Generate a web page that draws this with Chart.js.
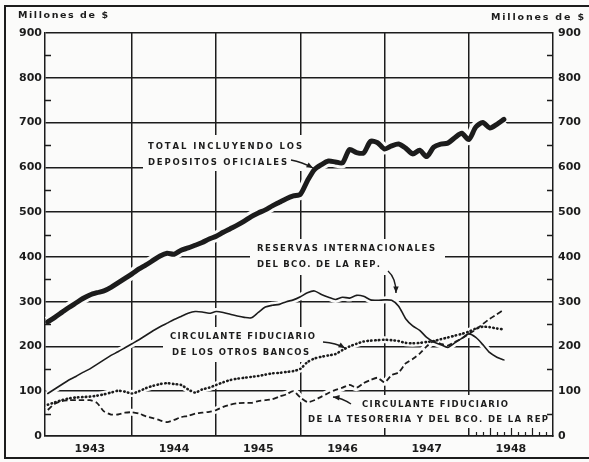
<!DOCTYPE html>
<html>
<head>
<meta charset="utf-8">
<script src="https://cdn.jsdelivr.net/npm/chart.js@4.4.0/dist/chart.umd.min.js"></script>
<style>
  html, body { margin: 0; padding: 0; background: #fbfbfa; }
  #chart { display: block; }
</style>
</head>
<body>
<canvas id="chart" width="589" height="462"></canvas>
<script>
/* ============================================
   Depósitos y circulante, 1943-1948
   valores mensuales, mes 0 = enero 1943
   ============================================ */

const years = ['1943', '1944', '1945', '1946', '1947', '1948'];
const yTicks = [0, 100, 200, 300, 400, 500, 600, 700, 800, 900];

const total = [255, 265, 276, 287, 297, 307, 315, 320, 324, 332,
    342, 352, 362, 373, 382, 392, 402, 408, 406, 415,
    420, 426, 432, 440, 446, 455, 463, 471, 480, 490,
    498, 505, 514, 522, 530, 536, 540, 570, 595, 606,
    614, 612, 610, 640, 633, 632, 658, 655, 641, 648,
    652, 643, 630, 638, 624, 645, 652, 654, 666, 676,
    662, 690, 700, 688, 696, 707];

const reservas = [95, 105, 115, 125, 133, 142, 150, 160, 170, 180,
    188, 197, 206, 215, 225, 235, 244, 252, 260, 267,
    274, 278, 277, 274, 278, 276, 272, 268, 265, 264,
    276, 288, 292, 294, 300, 304, 311, 320, 324, 316,
    310, 305, 310, 308, 314, 312, 304, 303, 304, 303,
    290, 262, 246, 236, 220, 210, 204, 198, 208, 218,
    228, 220, 204, 186, 176, 170];

const otrosBancos = [70, 75, 80, 84, 86, 87, 88, 90, 93, 97,
    101, 99, 95, 100, 107, 112, 116, 118, 116, 114,
    104, 97, 104, 108, 114, 120, 125, 128, 130, 132,
    134, 137, 140, 141, 143, 145, 150, 165, 173, 177,
    180, 183, 192, 200, 206, 211, 213, 214, 215, 214,
    212, 208, 207, 208, 210, 212, 216, 220, 224, 228,
    233, 240, 244, 243, 240, 238];

const tesoreria = [58, 72, 78, 80, 80, 80, 80, 74, 55, 48,
    48, 52, 53, 50, 44, 40, 35, 31, 36, 42,
    45, 50, 52, 54, 58, 65, 70, 73, 74, 74,
    78, 80, 82, 88, 93, 100, 86, 76, 80, 88,
    96, 103, 108, 114, 108, 118, 125, 130, 120, 136,
    142, 162, 172, 184, 200, 212, 206, 202, 210, 218,
    228, 238, 250, 262, 272, 282];

const months = total.map((_, i) => i);

/* ---------- look ---------- */
const ink = '#1c1c1c';
const paper = '#fbfbfa';

const toPoints = vals => vals.map((y, i) => ({ x: months[i], y }));

function seriesSet(label, vals, style) {
    return {
        label,
        data: toPoints(vals),
        borderColor: ink,
        pointRadius: 0,
        fill: false,
        tension: 0.25,
        borderJoinStyle: 'round',
        borderCapStyle: 'round',
        order: 1,
        ...style,
    };
}

/* wide paper-coloured line under each series: breaks the grid like the drawing */
function haloSet(vals, width) {
    return {
        label: '',
        data: toPoints(vals),
        borderColor: paper,
        borderWidth: width,
        pointRadius: 0,
        fill: false,
        tension: 0.25,
        order: 9,
    };
}

/* text notes on the plot */
const notes = [
    { box: [143, 135, 176, 36], rows: [
        { text: 'TOTAL INCLUYENDO LOS', x: 148, y: 147, w: 154 },
        { text: 'DEPOSITOS OFICIALES', x: 148, y: 163, w: 139 } ] },
    { box: [250, 239, 195, 36], rows: [
        { text: 'RESERVAS INTERNACIONALES', x: 257, y: 249, w: 178 },
        { text: 'DEL BCO. DE LA REP.', x: 257, y: 265, w: 123 } ] },
    { box: [163, 327, 186, 35], rows: [
        { text: 'CIRCULANTE FIDUCIARIO', x: 170, y: 337, w: 145 },
        { text: 'DE LOS OTROS BANCOS', x: 172, y: 353, w: 137 } ] },
    { box: [303, 395, 247, 33], rows: [
        { text: 'CIRCULANTE FIDUCIARIO', x: 362, y: 405, w: 146 },
        { text: 'DE LA TESORERIA Y DEL BCO. DE LA REP', x: 308, y: 420, w: 240 } ] },
];

const arrows = [
    { from: [291, 160], ctrl: [302, 162], to: [313, 168] },
    { from: [388, 271], ctrl: [396, 278], to: [396, 293] },
    { from: [323, 342], ctrl: [336, 343], to: [345, 348] },
    { from: [351, 404], ctrl: [342, 398], to: [333, 397] },
];

/* draw text stretched to a given width, letter by letter */
function spacedText(ctx, text, x, y, width) {
    const chars = text.split('');
    const widths = chars.map(c => ctx.measureText(c).width);
    const natural = widths.reduce((a, b) => a + b, 0);
    const gap = chars.length > 1 ? (width - natural) / (chars.length - 1) : 0;
    let cx = x;
    chars.forEach((c, i) => {
        ctx.fillText(c, cx, y);
        cx += widths[i] + gap;
    });
}

function arrowHead(ctx, tip, from, size) {
    const ang = Math.atan2(tip[1] - from[1], tip[0] - from[0]);
    ctx.beginPath();
    ctx.moveTo(tip[0], tip[1]);
    ctx.lineTo(tip[0] - size * Math.cos(ang - 0.4), tip[1] - size * Math.sin(ang - 0.4));
    ctx.lineTo(tip[0] - size * Math.cos(ang + 0.4), tip[1] - size * Math.sin(ang + 0.4));
    ctx.closePath();
    ctx.fill();
}

const paperPlugin = {
    id: 'paper',
    beforeDraw(chart) {
        const ctx = chart.ctx;
        ctx.save();
        ctx.fillStyle = paper;
        ctx.fillRect(0, 0, chart.width, chart.height);
        ctx.restore();
    },
    beforeDatasetsDraw(chart) {
        const ctx = chart.ctx;
        ctx.save();
        ctx.fillStyle = paper;
        notes.forEach(n => ctx.fillRect(n.box[0], n.box[1], n.box[2], n.box[3]));
        ctx.restore();
    },
};

const decorPlugin = {
    id: 'decor',
    afterDraw(chart) {
        const ctx = chart.ctx;
        const area = chart.chartArea;
        const y = chart.scales.y;
        const x = chart.scales.x;
        ctx.save();
        ctx.strokeStyle = ink;
        ctx.fillStyle = ink;
        ctx.lineWidth = 1.5;

        /* inward half-step ticks on both vertical axes */
        for (let v = 50; v < 900; v += 100) {
            const py = Math.round(y.getPixelForValue(v)) + 0.5;
            ctx.beginPath();
            ctx.moveTo(area.left, py); ctx.lineTo(area.left + 6, py);
            ctx.moveTo(area.right, py); ctx.lineTo(area.right - 6, py);
            ctx.stroke();
        }

        /* month ticks along the bottom in 1948 */
        ctx.lineWidth = 1.2;
        for (let m = 61; m < 72; m++) {
            const px = Math.round(x.getPixelForValue(m)) + 0.5;
            const h = (m % 3 === 0) ? 8 : 4;
            ctx.beginPath();
            ctx.moveTo(px, area.bottom);
            ctx.lineTo(px, area.bottom - h);
            ctx.stroke();
        }

        /* notes */
        ctx.font = 'bold 8.5px "DejaVu Sans", sans-serif';
        ctx.textBaseline = 'middle';
        ctx.textAlign = 'left';
        notes.forEach(n => n.rows.forEach(r => spacedText(ctx, r.text, r.x, r.y, r.w)));

        /* arrows */
        ctx.lineWidth = 1.4;
        arrows.forEach(a => {
            ctx.beginPath();
            ctx.moveTo(a.from[0], a.from[1]);
            ctx.quadraticCurveTo(a.ctrl[0], a.ctrl[1], a.to[0], a.to[1]);
            ctx.stroke();
            arrowHead(ctx, a.to, a.ctrl, 7);
        });

        /* unit captions */
        ctx.font = 'bold 9.5px "DejaVu Sans", sans-serif';
        spacedText(ctx, 'Millones de $', 18, 16, 90);
        spacedText(ctx, 'Millones de $', 491, 18, 93);

        /* outer frame: left, top and bottom edges of the scanned page */
        ctx.lineWidth = 2;
        ctx.beginPath();
        ctx.moveTo(592, 6);
        ctx.lineTo(5, 6);
        ctx.lineTo(5, 458);
        ctx.lineTo(592, 458);
        ctx.stroke();
        ctx.restore();
    },
};

const tickFont = { family: '"DejaVu Sans", sans-serif', size: 11, weight: 'bold' };

new Chart(document.getElementById('chart'), {
    type: 'line',
    data: {
        datasets: [
            haloSet(total, 11),
            haloSet(reservas, 7),
            haloSet(otrosBancos, 7),
            haloSet(tesoreria, 7),
            seriesSet('Total incluyendo los depósitos oficiales', total, { borderWidth: 5 }),
            seriesSet('Reservas internacionales del Bco. de la Rep.', reservas, { borderWidth: 1.6 }),
            seriesSet('Circulante fiduciario de los otros bancos', otrosBancos, {
                borderWidth: 2.6, borderDash: [0.5, 3.4] }),
            seriesSet('Circulante fiduciario de la Tesorería y del Bco. de la Rep.', tesoreria, {
                borderWidth: 1.8, borderDash: [5.5, 3], borderCapStyle: 'butt' }),
        ],
    },
    options: {
        responsive: false,
        animation: false,
        devicePixelRatio: 1,
        layout: { padding: { top: 33, left: 0, right: 0, bottom: 0 } },
        plugins: { legend: { display: false }, tooltip: { enabled: false } },
        scales: {
            x: {
                type: 'linear',
                min: -0.4,
                max: 72,
                afterBuildTicks(scale) {
                    scale.ticks = [6, 12, 18, 24, 30, 36, 42, 48, 54, 60, 66].map(v => ({ value: v }));
                },
                afterFit(scale) { scale.height = 26; },
                grid: {
                    color: c => (c.tick && c.tick.value % 12 === 0) ? ink : 'rgba(0,0,0,0)',
                    lineWidth: 1.5,
                    drawTicks: false,
                },
                border: { display: true, color: ink, width: 1.5 },
                ticks: {
                    autoSkip: false,
                    maxRotation: 0,
                    padding: 7,
                    color: ink,
                    font: tickFont,
                    callback: v => (v % 12 === 6) ? years[(v - 6) / 12] : '',
                },
            },
            y: {
                position: 'left',
                min: 0,
                max: 900,
                afterFit(scale) { scale.width = 45; },
                grid: {
                    color: c => (c.tick && yTicks.includes(c.tick.value)) ? ink : 'rgba(0,0,0,0)',
                    lineWidth: 1.5,
                    drawTicks: false,
                },
                border: { display: true, color: ink, width: 1.5 },
                ticks: {
                    stepSize: 50,
                    padding: 3,
                    color: ink,
                    font: tickFont,
                    callback: v => yTicks.includes(v) ? String(v) : '',
                },
            },
            y2: {
                position: 'right',
                min: 0,
                max: 900,
                afterFit(scale) { scale.width = 36; },
                grid: { display: false, drawTicks: false },
                border: { display: true, color: ink, width: 1.5 },
                ticks: {
                    stepSize: 50,
                    padding: 5,
                    color: ink,
                    font: tickFont,
                    callback: v => yTicks.includes(v) ? String(v) : '',
                },
            },
        },
    },
    plugins: [paperPlugin, decorPlugin],
});
</script>
</body>
</html>
